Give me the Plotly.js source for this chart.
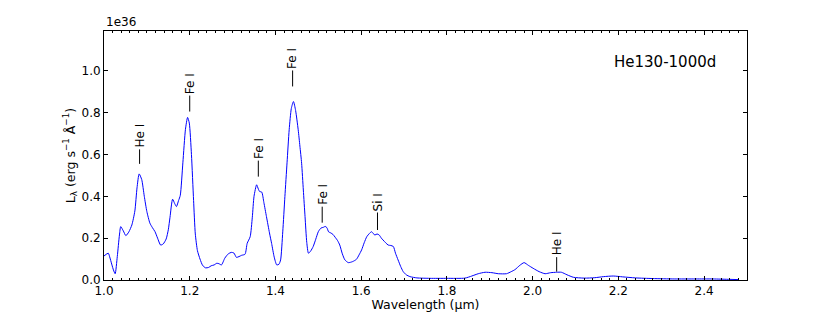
<!DOCTYPE html>
<html>
<head>
<meta charset="utf-8">
<script src="https://cdn.plot.ly/plotly-3.0.1.min.js"></script>
<style>
  body { margin: 0; background: #fff; }
  #plot { width: 830px; height: 312px; }
</style>
</head>
<body>
<div id="plot"></div>
<script>
// spectrum, luminosity in units of 1e36
var wavelength = [1.000, 1.010, 1.014, 1.022, 1.026, 1.031, 1.036, 1.039, 1.045, 1.051, 1.058, 1.065,
  1.072, 1.077, 1.082, 1.088, 1.094, 1.100, 1.107, 1.113, 1.119, 1.125, 1.132, 1.138, 1.145, 1.150,
  1.154, 1.160, 1.165, 1.169, 1.174, 1.178, 1.184, 1.190, 1.195, 1.199, 1.204, 1.209, 1.213, 1.218,
  1.224, 1.230, 1.237, 1.244, 1.250, 1.257, 1.263, 1.268, 1.274, 1.282, 1.290, 1.297, 1.303, 1.309,
  1.315, 1.321, 1.329, 1.334, 1.341, 1.346, 1.350, 1.356, 1.360, 1.363, 1.368, 1.373, 1.379, 1.386,
  1.391, 1.397, 1.403, 1.408, 1.412, 1.417, 1.422, 1.427, 1.432, 1.437, 1.442, 1.447, 1.453, 1.457,
  1.461, 1.465, 1.469, 1.473, 1.477, 1.482, 1.488, 1.494, 1.500, 1.506, 1.512, 1.516, 1.520, 1.524,
  1.529, 1.534, 1.539, 1.545, 1.550, 1.556, 1.562, 1.570, 1.580, 1.589, 1.595, 1.601, 1.607, 1.613,
  1.619, 1.624, 1.628, 1.632, 1.637, 1.642, 1.647, 1.651, 1.657, 1.663, 1.669, 1.675, 1.680, 1.686,
  1.692, 1.698, 1.705, 1.714, 1.730, 1.760, 1.800, 1.842, 1.858, 1.873, 1.889, 1.905, 1.920, 1.939,
  1.950, 1.959, 1.970, 1.980, 1.990, 2.001, 2.015, 2.029, 2.042, 2.056, 2.067, 2.080, 2.095, 2.120,
  2.145, 2.165, 2.188, 2.210, 2.240, 2.280, 2.330, 2.380, 2.420, 2.460, 2.480];
var luminosity = [0.115, 0.128, 0.105, 0.048, 0.030, 0.112, 0.215, 0.255, 0.235, 0.212, 0.230, 0.263,
  0.330, 0.440, 0.507, 0.480, 0.400, 0.327, 0.272, 0.250, 0.231, 0.200, 0.167, 0.172, 0.196, 0.240,
  0.300, 0.386, 0.365, 0.351, 0.380, 0.405, 0.560, 0.720, 0.777, 0.750, 0.600, 0.380, 0.220, 0.140,
  0.100, 0.070, 0.058, 0.060, 0.068, 0.072, 0.080, 0.078, 0.072, 0.105, 0.125, 0.132, 0.129, 0.108,
  0.112, 0.118, 0.123, 0.175, 0.207, 0.300, 0.400, 0.455, 0.435, 0.423, 0.420, 0.370, 0.303, 0.225,
  0.175, 0.110, 0.072, 0.075, 0.096, 0.230, 0.399, 0.560, 0.718, 0.820, 0.853, 0.810, 0.718, 0.640,
  0.558, 0.430, 0.303, 0.180, 0.128, 0.138, 0.160, 0.195, 0.231, 0.248, 0.252, 0.256, 0.250, 0.230,
  0.225, 0.218, 0.205, 0.188, 0.167, 0.125, 0.096, 0.083, 0.088, 0.099, 0.120, 0.144, 0.178, 0.207,
  0.222, 0.231, 0.222, 0.215, 0.220, 0.215, 0.200, 0.191, 0.178, 0.167, 0.165, 0.160, 0.128, 0.096,
  0.065, 0.040, 0.025, 0.016, 0.010, 0.008, 0.008, 0.009, 0.019, 0.030, 0.037, 0.035, 0.030, 0.030,
  0.040, 0.050, 0.070, 0.083, 0.070, 0.056, 0.040, 0.030, 0.035, 0.037, 0.037, 0.025, 0.013, 0.009,
  0.011, 0.016, 0.019, 0.015, 0.010, 0.007, 0.005, 0.005, 0.005, 0.003, 0.002];

// line identifications
var lineNames = ['He I', 'Fe I', 'Fe I', 'Fe I', 'Fe I', 'Si I', 'He I'];
var lineWave = [1.083, 1.200, 1.360, 1.440, 1.509, 1.638, 2.056];
var lineBase = [0.555, 0.805, 0.494, 0.925, 0.274, 0.239, 0.040];

var xTicks = [1.0, 1.2, 1.4, 1.6, 1.8, 2.0, 2.2, 2.4];
var yTicks = [0.0, 0.2, 0.4, 0.6, 0.8, 1.0];

var font = 'DejaVu Sans, sans-serif';

var spectrum = {
  x: wavelength,
  y: luminosity,
  type: 'scatter',
  mode: 'lines',
  line: {color: '#0000ff', width: 1, shape: 'spline', smoothing: 0.6},
  hoverinfo: 'skip'
};

var annotations = lineNames.map(function (name, i) {
  return {
    x: lineWave[i], y: lineBase[i], xref: 'x', yref: 'y',
    text: name, textangle: -90,
    showarrow: true, arrowhead: 0, arrowwidth: 1, arrowcolor: '#000',
    ax: 0, ay: -28, standoff: 0,
    font: {family: font, size: 12, color: '#000'}
  };
});
annotations.push({
  x: 0, y: 1, xref: 'paper', yref: 'paper', xanchor: 'left', yanchor: 'bottom',
  text: '1e36', showarrow: false, font: {family: font, size: 12, color: '#000'}
});
annotations.push({
  x: 0.955, y: 0.877, xref: 'paper', yref: 'paper', xanchor: 'right', yanchor: 'middle',
  text: 'He130-1000d', showarrow: false, font: {family: font, size: 15, color: '#000'}
});

var layout = {
  width: 830, height: 312,
  margin: {l: 104, r: 83, t: 31, b: 32},
  paper_bgcolor: '#fff', plot_bgcolor: '#fff',
  showlegend: false,
  font: {family: font, size: 12, color: '#000'},
  xaxis: {
    range: [1.0, 2.5], tickvals: xTicks, tickformat: '.1f',
    ticks: 'inside', ticklen: 4, tickcolor: '#000',
    minor: {dtick: 0.02, tick0: 1.0, ticks: 'inside', ticklen: 2, tickcolor: '#000'},
    showline: true, linecolor: '#000', linewidth: 1, mirror: 'ticks',
    showgrid: false, zeroline: false,
    title: {text: 'Wavelength (μm)', font: {size: 12.5}, standoff: 0}
  },
  yaxis: {
    range: [0, 1.19], tickvals: yTicks, tickformat: '.1f',
    ticks: 'inside', ticklen: 4, tickcolor: '#000',
    showline: true, linecolor: '#000', linewidth: 1, mirror: 'ticks',
    showgrid: false, zeroline: false,
    title: {text: 'L<sub>λ</sub> (erg s<sup>−1</sup> Å<sup>−1</sup>)', font: {size: 12.5}, standoff: 3}
  },
  annotations: annotations
};

Plotly.newPlot('plot', [spectrum], layout, {staticPlot: true});
</script>
</body>
</html>
